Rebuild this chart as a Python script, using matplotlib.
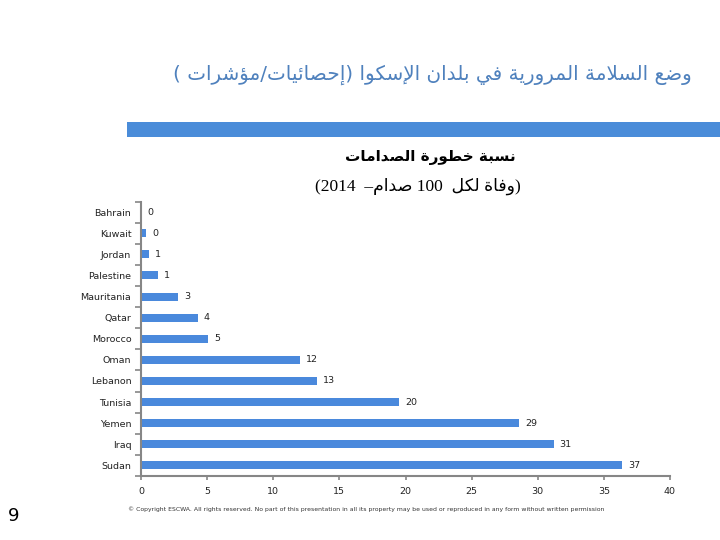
import numpy as np
import matplotlib.pyplot as plt

countries = ['Bahrain', 'Kuwait', 'Jordan', 'Palestine', 'Mauritania', 'Qatar', 'Morocco',
             'Oman', 'Lebanon', 'Tunisia', 'Yemen', 'Iraq', 'Sudan']
values = [0.0, 0.4, 0.6, 1.3, 2.8, 4.3, 5.1, 12.0, 13.3, 19.5, 28.6, 31.2, 36.4]
value_labels = ['0', '0', '1', '1', '3', '4', '5', '12', '13', '20', '29', '31', '37']
x_ticks = [0, 5, 10, 15, 20, 25, 30, 35, 40]

title = 'وضع السلامة المرورية في بلدان الإسكوا (إحصائيات/مؤشرات )'
sub1 = 'نسبة خطورة الصدامات'
sub2 = '(وفاة لكل  100 صدام–  2014)'
footer = ('© Copyright ESCWA. All rights reserved. No part of this presentation in all its '
          'property may be used or reproduced in any form without written permission')

# --- minimal arabic shaping (matplotlib has no bidi / shaping) ---
FOUR = {0x0626: 0xFE89, 0x0628: 0xFE8F, 0x062A: 0xFE95, 0x062B: 0xFE99, 0x062C: 0xFE9D,
        0x062D: 0xFEA1, 0x062E: 0xFEA5, 0x0633: 0xFEB1, 0x0634: 0xFEB5, 0x0635: 0xFEB9,
        0x0636: 0xFEBD, 0x0637: 0xFEC1, 0x0638: 0xFEC5, 0x0639: 0xFEC9, 0x063A: 0xFECD,
        0x0641: 0xFED1, 0x0642: 0xFED5, 0x0643: 0xFED9, 0x0644: 0xFEDD, 0x0645: 0xFEE1,
        0x0646: 0xFEE5, 0x0647: 0xFEE9, 0x064A: 0xFEF1}
TWO = {0x0622: 0xFE81, 0x0623: 0xFE83, 0x0624: 0xFE85, 0x0625: 0xFE87, 0x0627: 0xFE8D,
       0x0629: 0xFE93, 0x062F: 0xFEA9, 0x0630: 0xFEAB, 0x0631: 0xFEAD, 0x0632: 0xFEAF,
       0x0648: 0xFEED, 0x0649: 0xFEEF}
LAMALEF = {0x0622: 0xFEF5, 0x0623: 0xFEF7, 0x0625: 0xFEF9, 0x0627: 0xFEFB}


def is_ar(c):
    return ord(c) in FOUR or ord(c) in TWO or ord(c) == 0x0621


def shape(s):
    out = []
    i = 0
    n = len(s)
    while i < n:
        c = ord(s[i])
        prev_join = i > 0 and ord(s[i - 1]) in FOUR
        nxt = s[i + 1] if i + 1 < n else ' '
        if c == 0x0644 and ord(nxt) in LAMALEF:
            out.append(chr(LAMALEF[ord(nxt)] + (1 if prev_join else 0)))
            i += 2
            continue
        if c in FOUR:
            b = FOUR[c]
            nj = is_ar(nxt)
            if prev_join and nj:
                out.append(chr(b + 3))
            elif prev_join:
                out.append(chr(b + 1))
            elif nj:
                out.append(chr(b + 2))
            else:
                out.append(chr(b))
        elif c in TWO:
            out.append(chr(TWO[c] + (1 if prev_join else 0)))
        elif c == 0x0621:
            out.append(chr(0xFE80))
        else:
            out.append(s[i])
        i += 1
    # visual order: reverse, keep digit runs LTR, mirror brackets
    runs = []
    for ch in out:
        if ch.isdigit() and runs and runs[-1][0].isdigit():
            runs[-1] += ch
        else:
            runs.append(ch)
    mirror = {'(': ')', ')': '('}
    return ''.join(mirror.get(r, r) for r in reversed(runs))


fig = plt.figure(figsize=(7.2, 5.4), dpi=100)

fig.text(0.601, 0.861, shape(title), fontsize=14.4, color='#4f81bd', ha='center', va='center',
         family='DejaVu Sans')
fig.patches.append(plt.Rectangle((127 / 720, 1 - 137 / 540), 1 - 127 / 720, 15 / 540,
                                 transform=fig.transFigure, facecolor='#4a8cd9', edgecolor='none'))
fig.text(0.597, 0.709, shape(sub1), fontsize=11, fontweight='bold', ha='center', va='center',
         family='DejaVu Sans')
fig.text(0.580, 0.655, shape(sub2), fontsize=12.5, ha='center', va='center',
         family=['Liberation Serif', 'DejaVu Sans'])

ax = fig.add_axes([141 / 720, 64 / 540, 529 / 720, 274.5 / 540])
y = np.arange(len(countries))
ax.barh(y, values, height=0.38, color='#4a89dc')
for yi, v, lab in zip(y, values, value_labels):
    ax.text(v + 0.45, yi, lab, fontsize=6.8, va='center', ha='left', color='#222222')

ax.set_ylim(len(countries) - 0.5, -0.5)
ax.set_xlim(0, 40)
ax.set_yticks(y)
ax.set_yticklabels(countries, fontsize=6.8, color='#222222')
ax.set_yticks(np.arange(-0.5, len(countries), 1), minor=True)
ax.tick_params(axis='y', which='major', length=0, pad=7)
ax.tick_params(axis='y', which='minor', length=4, width=1.2, color='#868686')
ax.set_xticks(x_ticks)
ax.set_xticklabels([str(t) for t in x_ticks], fontsize=6.8, color='#222222')
ax.tick_params(axis='x', length=3, width=1.2, color='#868686', pad=5)
for side in ['top', 'right']:
    ax.spines[side].set_visible(False)
for side in ['left', 'bottom']:
    ax.spines[side].set_color('#868686')
    ax.spines[side].set_linewidth(1.5)

fig.text(8 / 720, 1 - 516 / 540, '9', fontsize=13, va='center', ha='left')
fig.text(128 / 720, 1 - 509 / 540, footer, fontsize=4.4, color='#333333', va='center', ha='left')

plt.savefig('out.png', dpi=100)
